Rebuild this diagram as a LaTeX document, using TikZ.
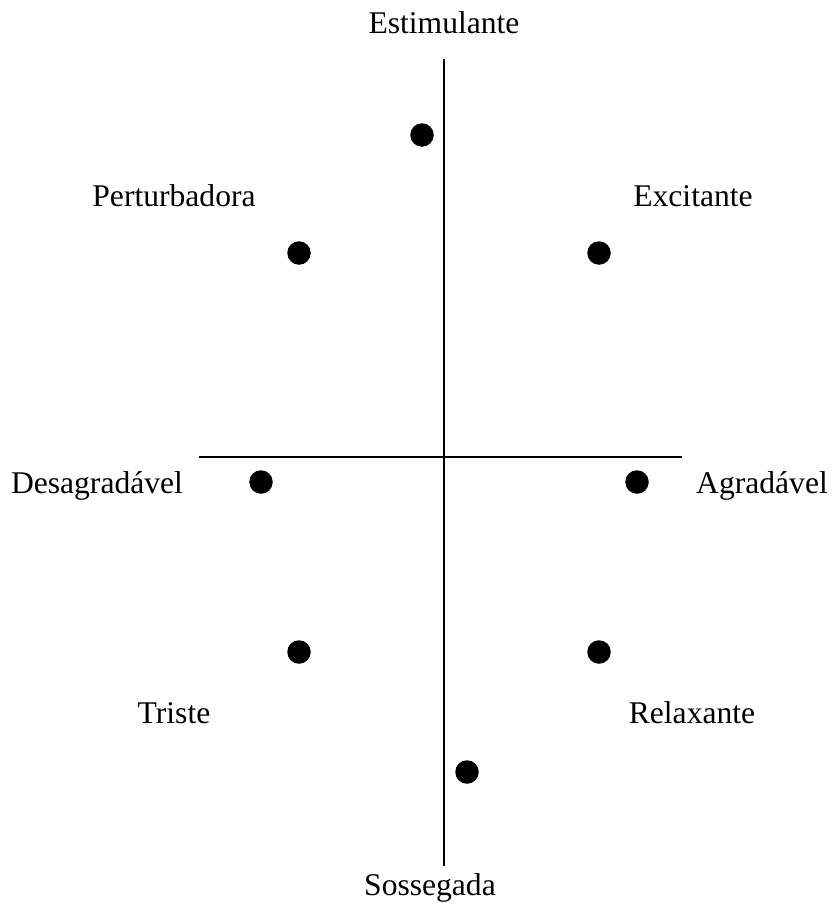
\documentclass[tikz,border=0pt]{standalone}
\usepackage{fontspec}
\setmainfont{Liberation Serif}
\usepackage{tikz}
\usetikzlibrary{positioning}

\begin{document}
\begin{tikzpicture}[x=1pt,y=-1pt,
  lbl/.style={anchor=base,inner sep=0pt,font=\fontsize{31.6}{38}\selectfont},
  pt/.style={circle,fill=black,inner sep=0pt,minimum size=23.5pt},
  axis/.style={line width=2pt,black}
]
  \useasboundingbox (0,0) rectangle (832,905);

  % axes ends
  \coordinate (ytop) at (444,59);
  \coordinate (ybot) at (444,866);
  \coordinate (xl)   at (199,457);
  \coordinate (xr)   at (682,457);
  \draw[axis](ytop)--(ybot);
  \draw[axis](xl)--(xr);

  % labels
  \node[lbl](estim) at (444,33)  {Estimulante};
  \node[lbl](pert)  at (174,206) {Perturbadora};
  \node[lbl](exc)   at (693,206) {Excitante};
  \node[lbl](desag) at (97,493)  {Desagradável};
  \node[lbl](agrad) at (762,493) {Agradável};
  \node[lbl](trist) at (174,723) {Triste};
  \node[lbl](relax) at (692,723) {Relaxante};
  \node[lbl](sosse) at (430,895) {Sossegada};

  % points
  \node[pt](pEstim) at (422,135) {};
  \node[pt](pPert)  at (299,253) {};
  \node[pt](pExc)   at (599,253) {};
  \node[pt](pDesag) at (261,482) {};
  \node[pt](pAgrad) at (637,482) {};
  \node[pt](pTrist) at (299,652) {};
  \node[pt](pRelax) at (599,652) {};
  \node[pt](pSosse) at (467,772) {};
\end{tikzpicture}
\end{document}
